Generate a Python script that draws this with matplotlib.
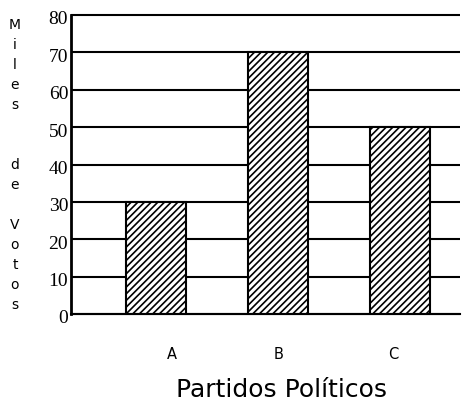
import matplotlib
matplotlib.use("Agg")
import matplotlib.pyplot as plt
import matplotlib.transforms as mtransforms

# Votes per party (thousands)
partidos = ["A", "B", "C"]
votos = [30, 70, 50]
y_ticks = [0, 10, 20, 30, 40, 50, 60, 70, 80]
y_label = "Miles de Votos"
x_title = "Partidos Políticos"

plt.rcParams["hatch.linewidth"] = 1.2
plt.rcParams["hatch.color"] = "black"

fig = plt.figure(figsize=(4.77, 4.06), dpi=100)
ax = fig.add_axes([71 / 477, 91 / 406, 389 / 477, 299 / 406])

pos = list(range(len(partidos)))
ax.set_xlim(-0.70, 2.49)
ax.set_ylim(0, 80)

# horizontal reference lines, drawn behind the bars
ax.hlines(y_ticks, -0.70, 2.49, colors="black", linewidth=1.5, zorder=1, clip_on=False)

ax.bar(pos, votos, width=0.49, facecolor="white", edgecolor="black",
       hatch="/////", linewidth=1.5, zorder=2)

for side in ("top", "right"):
    ax.spines[side].set_visible(False)
ax.spines["left"].set_linewidth(2)
ax.spines["bottom"].set_linewidth(1.5)

ax.set_yticks(y_ticks)
ax.set_yticklabels([str(v) for v in y_ticks], family="Liberation Serif", fontsize=14)
ax.tick_params(axis="y", length=0, pad=2)
shift = mtransforms.ScaledTranslation(0, -2 / 100, fig.dpi_scale_trans)
for lbl in ax.get_yticklabels():
    lbl.set_transform(lbl.get_transform() + shift)

label_offsets = [0.13, 0.0, -0.06]
ax.set_xticks([p + o for p, o in zip(pos, label_offsets)])
ax.set_xticklabels(partidos, family="DejaVu Sans", fontsize=10.5)
ax.tick_params(axis="x", length=0, pad=23)

# vertical axis caption, one letter per row, blank rows between words
row = 0
for word in y_label.split(" "):
    for ch in word:
        fig.text(15 / 477, 1 - (25 + 20 * row) / 406, ch, ha="center", va="center",
                 family="DejaVu Sans", fontsize=10)
        row += 1
    row += 2 if row < 6 else 1

fig.text(281 / 477, 1 - 390 / 406, x_title, ha="center", va="center",
         family="DejaVu Sans", fontsize=18)

fig.savefig("out.png", dpi=100)
